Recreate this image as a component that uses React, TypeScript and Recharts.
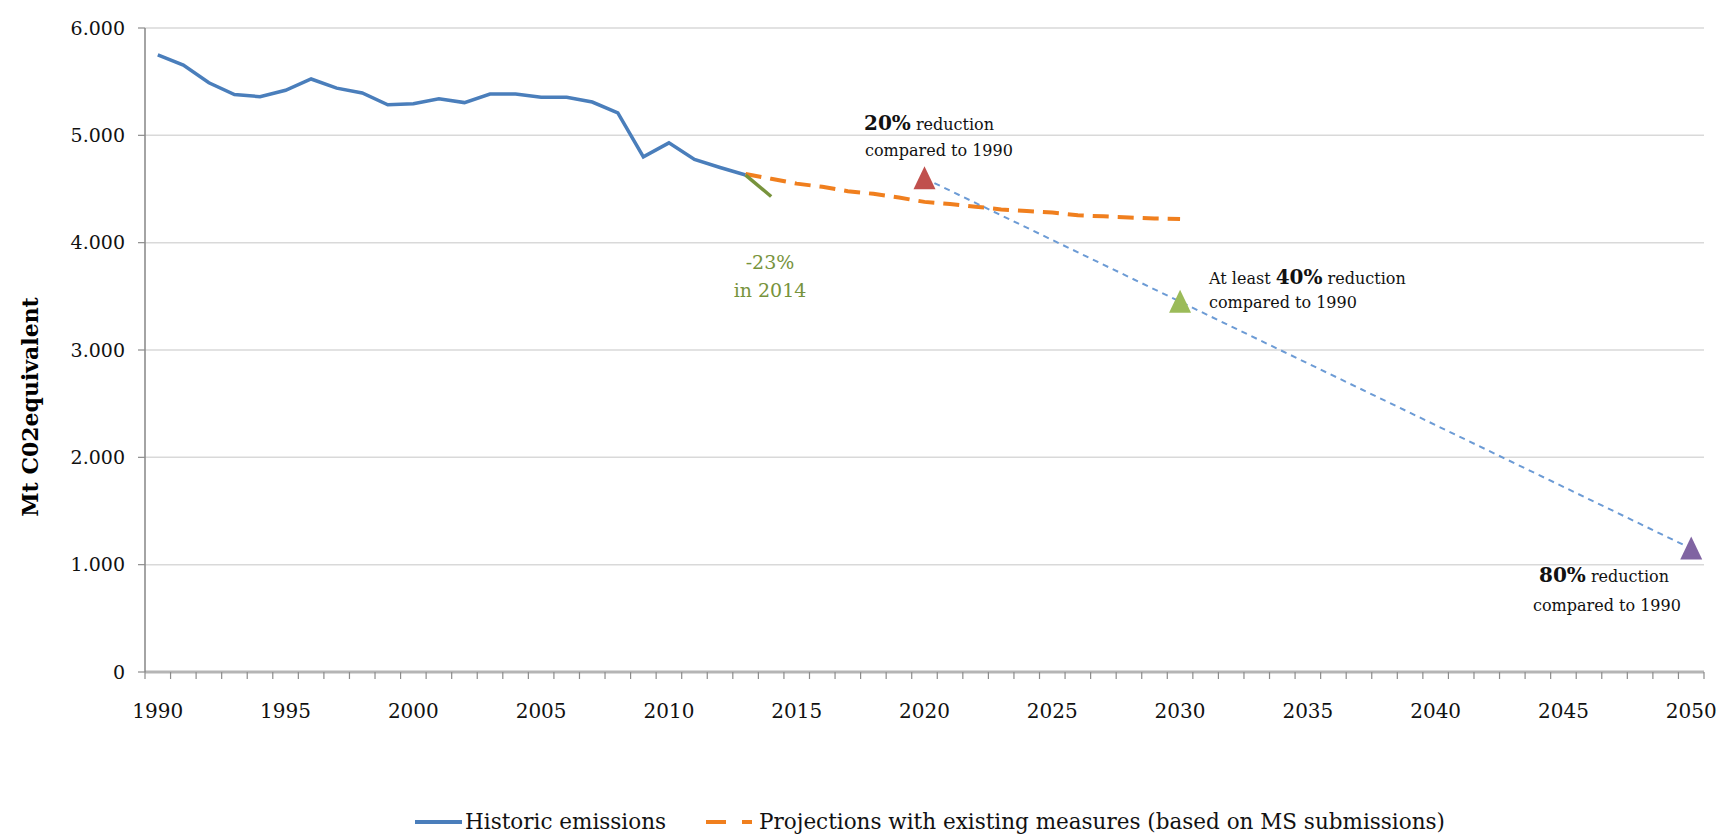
import React from 'react';
import { LineChart, Line, XAxis, YAxis, CartesianGrid, Legend, Customized } from 'recharts';

const years = [
  1990, 1991, 1992, 1993, 1994, 1995, 1996, 1997, 1998, 1999,
  2000, 2001, 2002, 2003, 2004, 2005, 2006, 2007, 2008, 2009,
  2010, 2011, 2012, 2013, 2014, 2015, 2016, 2017, 2018, 2019,
  2020, 2021, 2022, 2023, 2024, 2025, 2026, 2027, 2028, 2029,
  2030, 2031, 2032, 2033, 2034, 2035, 2036, 2037, 2038, 2039,
  2040, 2041, 2042, 2043, 2044, 2045, 2046, 2047, 2048, 2049, 2050,
];

const historicYears = [
  1990, 1991, 1992, 1993, 1994, 1995, 1996, 1997, 1998, 1999, 2000, 2001,
  2002, 2003, 2004, 2005, 2006, 2007, 2008, 2009, 2010, 2011, 2012, 2013,
];
const historicValues = [
  5750, 5655, 5490, 5380, 5360, 5420, 5525, 5440, 5395, 5285, 5295, 5340,
  5305, 5385, 5385, 5355, 5355, 5310, 5210, 4800, 4930, 4775, 4700, 4630,
];

const trendYears = [2013, 2014];
const trendValues = [4630, 4430];

const projectionYears = [
  2013, 2014, 2015, 2016, 2017, 2018, 2019, 2020, 2021,
  2022, 2023, 2024, 2025, 2026, 2027, 2028, 2029, 2030,
];
const projectionValues = [
  4640, 4595, 4550, 4520, 4480, 4455, 4420, 4380, 4360,
  4335, 4310, 4295, 4280, 4255, 4245, 4235, 4225, 4220,
];

const targetYears = [2020, 2030, 2050];
const targetValues = [4600, 3450, 1150];
const targetColors = ['#C0504D', '#9BBB59', '#8064A2'];

const yTicks = [0, 1000, 2000, 3000, 4000, 5000, 6000];
const xLabelTicks = [1990, 1995, 2000, 2005, 2010, 2015, 2020, 2025, 2030, 2035, 2040, 2045, 2050];
const xBoundaryTicks = [...years.map((y) => y - 0.5), 2050.5];

const pick = (ys: number[], vs: number[], year: number) => {
  const i = ys.indexOf(year);
  return i >= 0 ? vs[i] : null;
};

const data = years.map((year) => ({
  year,
  historic: pick(historicYears, historicValues, year),
  trend: pick(trendYears, trendValues, year),
  projection: pick(projectionYears, projectionValues, year),
  target: pick(targetYears, targetValues, year),
}));

const FONT = "'DejaVu Serif', serif";

const fmtY = (v: number) => {
  if (v === 0) return '0';
  const th = Math.floor(v / 1000);
  const rest = String(v % 1000).padStart(3, '0');
  return `${th}.${rest}`;
};

const Triangle = (props: any) => {
  const { cx, cy, payload, index } = props;
  if (payload == null || payload.target == null || cx == null || cy == null) {
    return <g key={`t-${index}`} />;
  }
  const color = targetColors[targetYears.indexOf(payload.year)];
  const d = `M ${cx} ${cy - 12} L ${cx + 11} ${cy + 11} L ${cx - 11} ${cy + 11} Z`;
  return <path key={`t-${index}`} d={d} fill={color} stroke="none" />;
};

const EmptyTick = (props: any) => <g key={`e-${props.index}`} />;

const YLabel = () => (
  <text
    transform="translate(38, 407) rotate(-90)"
    textAnchor="middle"
    fontFamily={FONT}
    fontWeight="bold"
    fontSize={22}
    fill="#000"
  >
    Mt C02equivalent
  </text>
);

const Annotations = () => (
  <g fontFamily={FONT} fill="#111">
    <text x={864} y={130}>
      <tspan fontWeight="bold" fontSize={20}>20%</tspan>
      <tspan fontSize={16}> reduction</tspan>
    </text>
    <text x={865} y={156} fontSize={16}>compared to 1990</text>

    <text x={770} y={269} fontSize={19} fill="#77933C" textAnchor="middle">-23%</text>
    <text x={770} y={297} fontSize={19} fill="#77933C" textAnchor="middle">in 2014</text>

    <text x={1209} y={284}>
      <tspan fontSize={16}>At least </tspan>
      <tspan fontWeight="bold" fontSize={20}>40%</tspan>
      <tspan fontSize={16}> reduction</tspan>
    </text>
    <text x={1209} y={308} fontSize={16}>compared to 1990</text>

    <text x={1539} y={582}>
      <tspan fontWeight="bold" fontSize={20}>80%</tspan>
      <tspan fontSize={16}> reduction</tspan>
    </text>
    <text x={1533} y={611} fontSize={16}>compared to 1990</text>
  </g>
);

const LegendContent = () => (
  <div
    style={{
      display: 'flex',
      alignItems: 'center',
      fontFamily: FONT,
      fontSize: 21.5,
      color: '#111',
      lineHeight: '24px',
      whiteSpace: 'nowrap',
    }}
  >
    <svg width={47} height={24} style={{ marginRight: 3 }}>
      <line x1={0} y1={12} x2={47} y2={12} stroke="#4A7EBB" strokeWidth={4} />
    </svg>
    <span>Historic emissions</span>
    <svg width={46} height={24} style={{ marginLeft: 40, marginRight: 7 }}>
      <line x1={0} y1={12} x2={46} y2={12} stroke="#F07F1E" strokeWidth={4} strokeDasharray="20 16" />
    </svg>
    <span>Projections with existing measures (based on MS submissions)</span>
  </div>
);

export default function App() {
  return (
    <div style={{ position: 'absolute', left: 0, top: 0, width: 1722, height: 838, background: '#fff' }}>
      <LineChart
        width={1722}
        height={838}
        data={data}
        margin={{ top: 28, right: 18, bottom: 118, left: 0 }}
      >
        <CartesianGrid
          xAxisId="a"
          horizontal
          vertical={false}
          stroke="#D9D9D9"
          strokeWidth={1.5}
        />
        <XAxis
          xAxisId="b"
          dataKey="year"
          type="number"
          domain={[1989.5, 2050.5]}
          ticks={xLabelTicks}
          interval={0}
          height={40}
          tickSize={0}
          tickMargin={24}
          tickLine={false}
          axisLine={false}
          tick={{ fontFamily: FONT, fontSize: 20, fill: '#111' }}
        />
        <XAxis
          xAxisId="a"
          dataKey="year"
          type="number"
          domain={[1989.5, 2050.5]}
          ticks={xBoundaryTicks}
          interval={0}
          height={8}
          tickSize={7}
          tick={EmptyTick}
          tickLine={{ stroke: '#8C8C8C', strokeWidth: 1.2 }}
          axisLine={{ stroke: '#B5B5B5', strokeWidth: 3 }}
        />
        <YAxis
          domain={[0, 6000]}
          ticks={yTicks}
          interval={0}
          width={145}
          tickSize={7}
          tickMargin={13}
          tickFormatter={fmtY}
          tick={{ fontFamily: FONT, fontSize: 19, fill: '#111' }}
          tickLine={{ stroke: '#8C8C8C', strokeWidth: 1.2 }}
          axisLine={{ stroke: '#868686', strokeWidth: 1.5 }}
          label={<YLabel />}
        />
        <Line
          xAxisId="a"
          dataKey="historic"
          stroke="#4A7EBB"
          strokeWidth={3.5}
          dot={false}
          isAnimationActive={false}
        />
        <Line
          xAxisId="a"
          dataKey="projection"
          stroke="#F07F1E"
          strokeWidth={4}
          strokeDasharray="16 9"
          dot={false}
          isAnimationActive={false}
        />
        <Line
          xAxisId="a"
          dataKey="trend"
          stroke="#77933C"
          strokeWidth={3.5}
          dot={false}
          isAnimationActive={false}
        />
        <Line
          xAxisId="a"
          dataKey="target"
          stroke="#6C9BD5"
          strokeWidth={2}
          strokeDasharray="6 5"
          connectNulls
          dot={Triangle}
          activeDot={false}
          isAnimationActive={false}
        />
        <Customized component={Annotations} />
        <Legend
          layout="horizontal"
          verticalAlign="middle"
          align="center"
          content={LegendContent}
          wrapperStyle={{ left: 415, top: 810, width: 'auto' }}
        />
      </LineChart>
    </div>
  );
}
